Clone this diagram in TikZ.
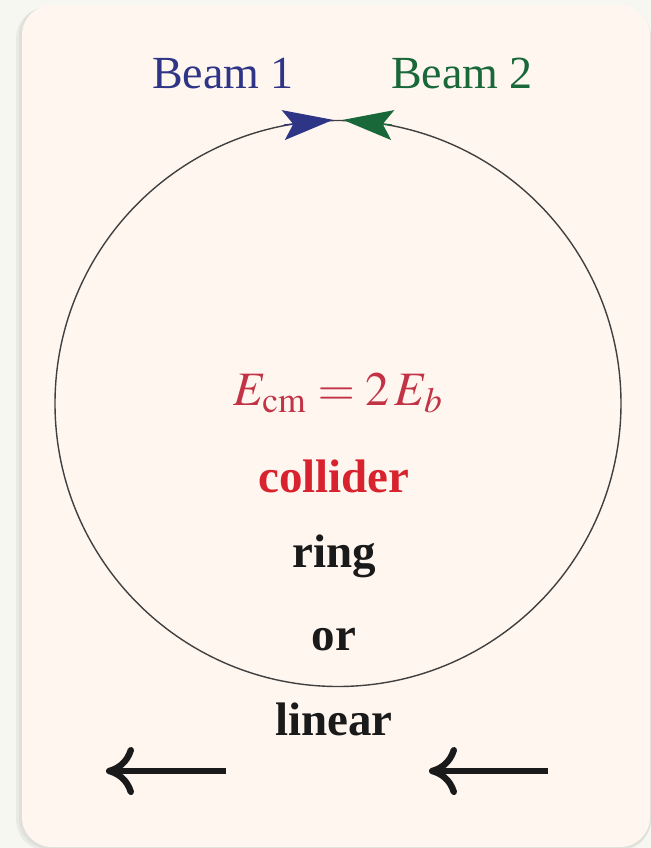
\documentclass[tikz,border=0pt]{standalone}
\usepackage{mathptmx}
\usepackage{fontspec}
\setmainfont{Liberation Serif}
\usetikzlibrary{arrows.meta,positioning,calc}
\definecolor{cardbg}{HTML}{FFF6F0}
\definecolor{pagebg}{HTML}{F7F7F1}
\definecolor{beamblue}{HTML}{2E3586}
\definecolor{beamgreen}{HTML}{19683A}
\definecolor{ecmred}{HTML}{C23445}
\definecolor{colred}{HTML}{D8232E}
\definecolor{inkblack}{HTML}{1A1A1A}
\tikzset{
  beamlabel/.style={font=\fontsize{23}{27}\selectfont, anchor=base, inner sep=0pt},
  word/.style={font=\fontsize{23.5}{28}\selectfont\bfseries, text=inkblack, anchor=base, inner sep=0pt},
  ringline/.style={draw=black!75, line width=0.7pt},
  beamtip/.style={-{Stealth[length=25pt,width=15pt,inset=5pt]}, line width=0.7pt},
  linarrow/.style={-{Computer Modern Rightarrow[length=14pt,width=24pt,line width=3.2pt]}, line width=2.7pt, draw=inkblack}
}
\begin{document}
\begin{tikzpicture}[x=0.5pt,y=-0.5pt]
  \useasboundingbox (0,0) rectangle (651,848);
  \fill[pagebg] (0,0) rectangle (651,848);
  \fill[black, opacity=0.05, rounded corners=16pt] (16,7) rectangle (651,851);
  \fill[black, opacity=0.04, rounded corners=15pt] (19,6) rectangle (651,849);
  \fill[cardbg, rounded corners=15pt] (22,5) rectangle (650,847);
  \node[circle, ringline, minimum size=283pt, inner sep=0pt] (ring) at (338,403.5) {};
  \draw[beamtip, draw=beamblue, fill=beamblue] (ring.101) -- (ring.91);
  \draw[beamtip, draw=beamgreen, fill=beamgreen] (ring.79) -- (ring.89);
  \node[beamlabel, text=beamblue] (beam1) at (223,88) {Beam 1};
  \node[beamlabel, text=beamgreen] (beam2) at (462,88) {Beam 2};
  \node[anchor=base, inner sep=0pt, text=ecmred, font=\fontsize{24}{28}\selectfont] (ecm) at (338,405) {$E_{\mathrm{cm}} = 2\,E_b$};
  \node[word, text=colred] (collider) at (334,492) {collider};
  \node[word] (ringword) at (334,567) {ring};
  \node[word] (orword) at (334,650) {or};
  \node[word] (linear) at (334,735) {linear};
  \coordinate (lfrom) at (226,771);
  \coordinate (lto) at (106,771);
  \coordinate (rfrom) at (548,771);
  \coordinate (rto) at (429,771);
  \draw[linarrow] (lfrom) -- (lto);
  \draw[linarrow] (rfrom) -- (rto);
\end{tikzpicture}
\end{document}
